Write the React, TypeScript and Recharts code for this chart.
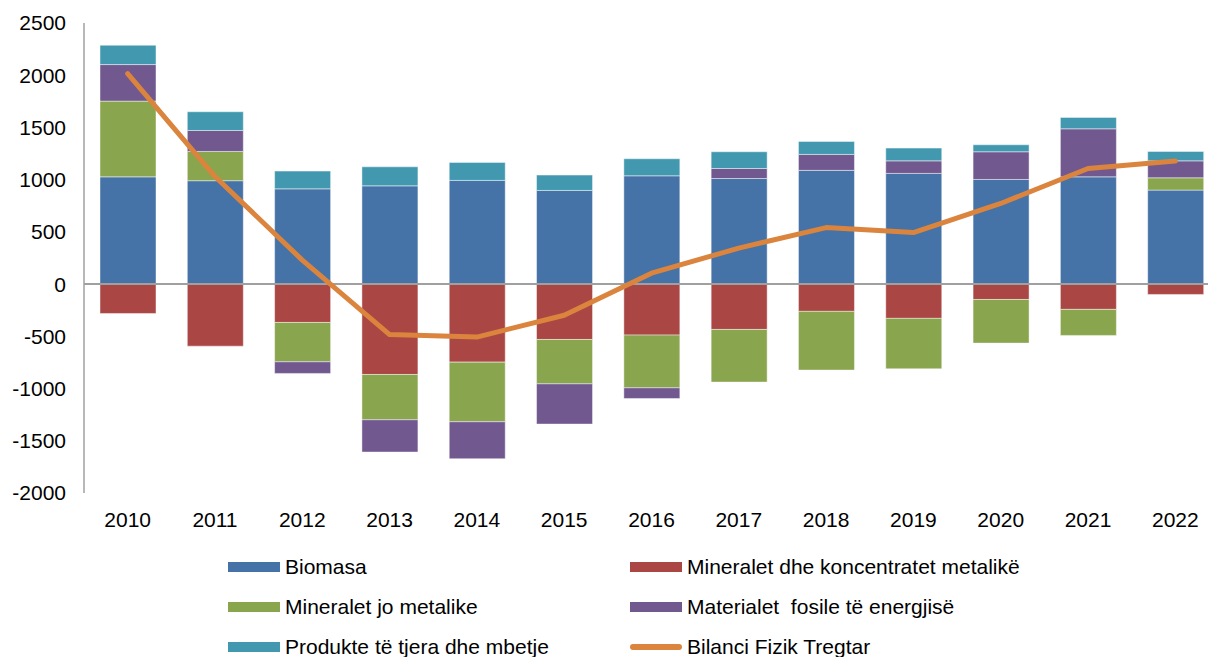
import React from 'react';
import { ComposedChart, Bar, Line, XAxis, YAxis, ReferenceLine } from 'recharts';

const years = ['2010', '2011', '2012', '2013', '2014', '2015', '2016', '2017', '2018', '2019', '2020', '2021', '2022'];
const biomasa = [1027, 990, 912, 941, 993, 897, 1037, 1011, 1089, 1060, 1002, 1027, 900];
const mineraletMetalike = [-281, -594, -367, -865, -747, -530, -488, -434, -261, -328, -147, -242, -99];
const mineraletJoMetalike = [725, 280, -377, -434, -571, -425, -505, -504, -562, -483, -418, -249, 118];
const materialetFosile = [350, 201, -111, -309, -354, -385, -102, 96, 153, 120, 265, 460, 162];
const produkteTjera = [185, 179, 170, 182, 172, 147, 163, 160, 124, 122, 67, 109, 90];
const bilanciFizik = [2015, 1030, 230, -483, -507, -298, 105, 345, 541, 493, 772, 1107, 1178];
const yTicks = [-2000, -1500, -1000, -500, 0, 500, 1000, 1500, 2000, 2500];

const barSeries = [
  { key: 'biomasa', name: 'Biomasa', color: '#4572A7' },
  { key: 'metalike', name: 'Mineralet dhe koncentratet metalikë', color: '#AA4643' },
  { key: 'jometalike', name: 'Mineralet jo metalike', color: '#89A54E' },
  { key: 'fosile', name: 'Materialet  fosile të energjisë', color: '#71588F' },
  { key: 'produkte', name: 'Produkte të tjera dhe mbetje', color: '#4198AF' },
];
const lineSeries = { key: 'bilanci', name: 'Bilanci Fizik Tregtar', color: '#DB843D' };

const data = years.map((year, i) => ({
  year,
  biomasa: biomasa[i],
  metalike: mineraletMetalike[i],
  jometalike: mineraletJoMetalike[i],
  fosile: materialetFosile[i],
  produkte: produkteTjera[i],
  bilanci: bilanciFizik[i],
}));

const FONT = '"Liberation Sans", Arial, sans-serif';

// legend layout: column 1 and column 2, 3 rows
const legendItems = [
  { ...barSeries[0], type: 'bar' },
  { ...barSeries[1], type: 'bar' },
  { ...barSeries[2], type: 'bar' },
  { ...barSeries[3], type: 'bar' },
  { ...barSeries[4], type: 'bar' },
  { ...lineSeries, type: 'line' },
];

export default function App() {
  return (
    <div
      style={{
        position: 'fixed',
        top: 0,
        left: 0,
        width: 1208,
        height: 657,
        overflow: 'hidden',
        background: '#fff',
        fontFamily: FONT,
      }}
    >
      <ComposedChart
        width={1230}
        height={540}
        data={data}
        stackOffset="sign"
        margin={{ top: 23, right: 11, bottom: 7, left: 0 }}
        style={{ position: 'absolute', left: 0, top: 0 }}
      >
        <XAxis
          dataKey="year"
          axisLine={false}
          tickLine={false}
          tickSize={0}
          tickMargin={19}
          height={40}
          interval={0}
          tick={{ fill: '#000', fontSize: 21, fontFamily: FONT }}
        />
        <YAxis
          width={84}
          domain={[-2000, 2500]}
          ticks={yTicks}
          interval={0}
          allowDataOverflow
          tickLine={false}
          tickSize={0}
          tickMargin={18}
          axisLine={{ stroke: '#A0A0A0', strokeWidth: 1.5 }}
          tick={{ fill: '#000', fontSize: 21, fontFamily: FONT }}
        />
        {barSeries.map((s) => (
          <Bar
            key={s.key}
            dataKey={s.key}
            name={s.name}
            stackId="a"
            fill={s.color}
            stroke="rgba(255,255,255,0.45)"
            strokeWidth={1}
            barSize={56}
            isAnimationActive={false}
          />
        ))}
        <ReferenceLine y={0} stroke="#A0A0A0" strokeWidth={2} />
        <Line
          type="linear"
          dataKey={lineSeries.key}
          name={lineSeries.name}
          stroke={lineSeries.color}
          strokeWidth={5}
          strokeLinecap="round"
          strokeLinejoin="round"
          dot={false}
          activeDot={false}
          isAnimationActive={false}
        />
      </ComposedChart>
      {legendItems.map((item, i) => {
        const col = i % 2;
        const row = Math.floor(i / 2);
        const left = col === 0 ? 228 : 630;
        const top = 547 + row * 40;
        return (
          <div
            key={item.key}
            style={{
              position: 'absolute',
              left,
              top,
              height: 40,
              display: 'flex',
              alignItems: 'center',
              whiteSpace: 'pre',
              fontSize: 21,
              color: '#000',
              fontFamily: FONT,
            }}
          >
            <span
              style={{
                display: 'inline-block',
                width: 52,
                height: item.type === 'line' ? 6 : 10,
                borderRadius: item.type === 'line' ? 3 : 0,
                background: item.color,
                marginRight: 5,
              }}
            />
            <span>{item.name}</span>
          </div>
        );
      })}
    </div>
  );
}
